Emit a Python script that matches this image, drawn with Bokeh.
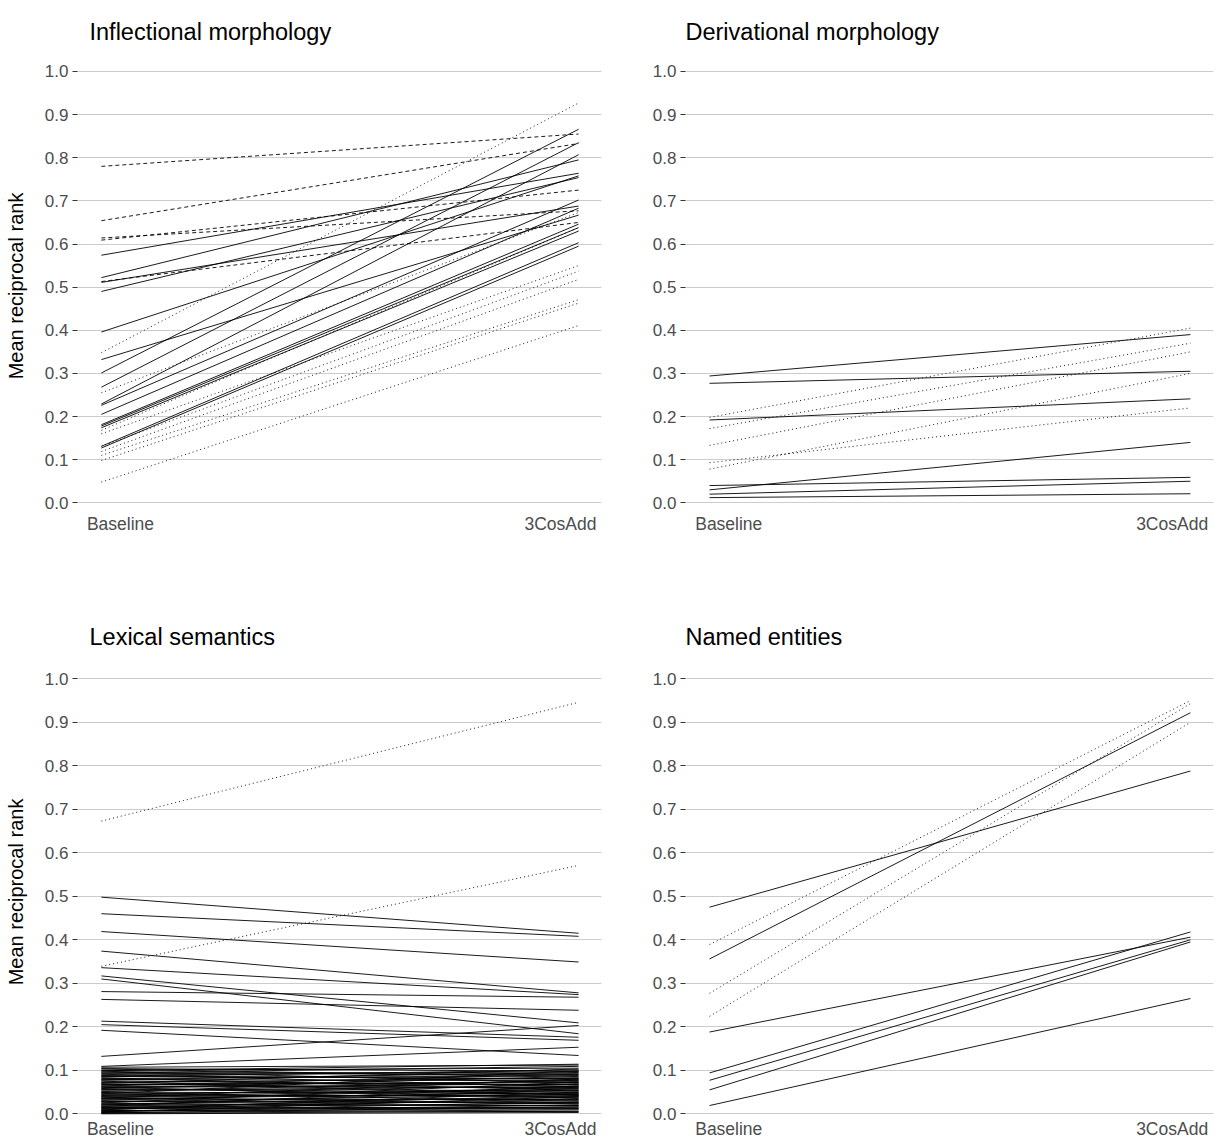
from bokeh.plotting import figure
from bokeh.layouts import gridplot
from bokeh.models import FixedTicker, Range1d, PrintfTickFormatter
from bokeh.embed import file_html
from bokeh.resources import INLINE

# ---------------- data ----------------
X_CATS = ["Baseline", "3CosAdd"]
X_POS = [1, 2]                      # positions of the two conditions
X_LABEL_POS = [1.04, 1.962]         # where the category labels sit
Y_TICKS = [0.0, 0.1, 0.2, 0.3, 0.4, 0.5, 0.6, 0.7, 0.8, 0.9, 1.0]

# Inflectional morphology
infl_solid_base = [0.574, 0.522, 0.490, 0.511, 0.396, 0.332, 0.301, 0.268, 0.229, 0.226, 0.205, 0.181, 0.178, 0.174, 0.131, 0.127]
infl_solid_add = [0.764, 0.795, 0.754, 0.688, 0.758, 0.667, 0.866, 0.835, 0.807, 0.702, 0.683, 0.646, 0.638, 0.630, 0.603, 0.595]
infl_dashed_base = [0.780, 0.654, 0.614, 0.609, 0.513]
infl_dashed_add = [0.855, 0.833, 0.677, 0.725, 0.650]
infl_dotted_base = [0.348, 0.255, 0.168, 0.160, 0.131, 0.119, 0.110, 0.098, 0.048]
infl_dotted_add = [0.927, 0.673, 0.638, 0.550, 0.537, 0.518, 0.471, 0.463, 0.411]

# Derivational morphology
deriv_solid_base = [0.294, 0.277, 0.192, 0.040, 0.030, 0.020, 0.012]
deriv_solid_add = [0.390, 0.305, 0.241, 0.059, 0.140, 0.050, 0.021]
deriv_dotted_base = [0.198, 0.172, 0.133, 0.093, 0.078]
deriv_dotted_add = [0.405, 0.370, 0.350, 0.220, 0.300]

# Lexical semantics
lex_solid_base = [0.498, 0.460, 0.419, 0.374, 0.336, 0.317, 0.310, 0.281, 0.263, 0.213, 0.205, 0.192, 0.132, 0.109,
                  0.107, 0.103, 0.100, 0.098, 0.096, 0.094, 0.091, 0.089, 0.088, 0.085, 0.083, 0.081, 0.078, 0.076,
                  0.075, 0.072, 0.070, 0.068, 0.066, 0.064, 0.061, 0.060, 0.058, 0.056, 0.054, 0.051, 0.049, 0.047,
                  0.046, 0.044, 0.042, 0.040, 0.038, 0.036, 0.034, 0.032, 0.031, 0.029, 0.027, 0.025, 0.024, 0.022,
                  0.020, 0.018, 0.017, 0.015, 0.013, 0.012, 0.010, 0.009, 0.007, 0.006, 0.005, 0.004, 0.003, 0.002,
                  0.001, 0.000, 0.104, 0.093, 0.086, 0.079, 0.071, 0.063, 0.057, 0.050, 0.043, 0.035, 0.028, 0.021,
                  0.014, 0.008, 0.099, 0.067, 0.039, 0.016]
lex_solid_add = [0.415, 0.408, 0.349, 0.278, 0.274, 0.209, 0.184, 0.268, 0.238, 0.176, 0.169, 0.134, 0.203, 0.153,
                 0.112, 0.084, 0.105, 0.071, 0.093, 0.109, 0.062, 0.097, 0.079, 0.101, 0.054, 0.088, 0.095, 0.066,
                 0.043, 0.082, 0.103, 0.058, 0.074, 0.091, 0.036, 0.069, 0.086, 0.047, 0.063, 0.077, 0.029, 0.052,
                 0.099, 0.041, 0.068, 0.057, 0.022, 0.080, 0.049, 0.033, 0.061, 0.026, 0.045, 0.073, 0.018, 0.038,
                 0.055, 0.030, 0.064, 0.024, 0.042, 0.015, 0.035, 0.050, 0.012, 0.027, 0.020, 0.039, 0.009, 0.016,
                 0.006, 0.003, 0.098, 0.090, 0.081, 0.076, 0.067, 0.060, 0.053, 0.046, 0.040, 0.032, 0.025, 0.019,
                 0.011, 0.005, 0.114, 0.072, 0.044, 0.013]
lex_dotted_base = [0.673, 0.339]
lex_dotted_add = [0.946, 0.571]

# Named entities
ne_solid_base = [0.475, 0.356, 0.188, 0.094, 0.077, 0.055, 0.019]
ne_solid_add = [0.788, 0.922, 0.406, 0.418, 0.400, 0.395, 0.265]
ne_dotted_base = [0.389, 0.277, 0.224]
ne_dotted_add = [0.950, 0.943, 0.900]

# ---------------- styling ----------------
FONT = "Liberation Sans"
SOLID, DASHED, DOTTED = "solid", "4 3", "1 3"


def panel(title, series, width, height, borders, y_range, ylabel, title_offset, title_standoff):
    left, right, top, bottom = borders
    p = figure(width=width, height=height, output_backend="svg", toolbar_location=None,
               x_range=Range1d(0.95, 2.048), y_range=Range1d(*y_range),
               min_border_left=left, min_border_right=right,
               min_border_top=top, min_border_bottom=bottom)
    p.outline_line_color = None
    p.background_fill_color = "white"
    p.border_fill_color = "white"

    for base, add, dash in series:
        xs = [X_POS for _ in base]
        ys = [[b, a] for b, a in zip(base, add)]
        p.multi_line(xs, ys, line_color="black", line_width=0.9, line_dash=dash)

    p.title.text = title
    p.title.text_font = FONT
    p.title.text_font_size = "23.5px"
    p.title.text_font_style = "normal"
    p.title.text_color = "black"
    p.title.offset = title_offset
    p.title.standoff = title_standoff

    p.xgrid.grid_line_color = None
    p.ygrid.grid_line_color = "#CCCCCC"
    p.ygrid.grid_line_width = 1
    p.ygrid.ticker = FixedTicker(ticks=Y_TICKS)

    xa = p.xaxis[0]
    xa.ticker = FixedTicker(ticks=X_LABEL_POS)
    xa.major_label_overrides = {pos: name for pos, name in zip(X_LABEL_POS, X_CATS)}
    xa.axis_line_color = None
    xa.major_tick_line_color = None
    xa.minor_tick_line_color = None
    xa.major_label_text_font = FONT
    xa.major_label_text_font_size = "17.5px"
    xa.major_label_text_color = "#4D4D4D"
    xa.major_label_standoff = -6

    ya = p.yaxis[0]
    ya.ticker = FixedTicker(ticks=Y_TICKS)
    ya.formatter = PrintfTickFormatter(format="%.1f")
    ya.axis_line_color = None
    ya.major_tick_line_color = "#333333"
    ya.major_tick_out = 5
    ya.major_tick_in = 0
    ya.minor_tick_line_color = None
    ya.major_label_text_font = FONT
    ya.major_label_text_font_size = "17px"
    ya.major_label_text_color = "#4D4D4D"
    ya.major_label_standoff = 4
    if ylabel:
        ya.axis_label = ylabel
        ya.axis_label_text_font = FONT
        ya.axis_label_text_font_size = "20px"
        ya.axis_label_text_font_style = "normal"
        ya.axis_label_text_color = "black"
        ya.axis_label_standoff = 15
    return p


TOP_Y = (-0.0248, 1.0301)
BOT_Y = (-0.0108, 1.0306)

tl = panel("Inflectional morphology",
           [(infl_solid_base, infl_solid_add, SOLID),
            (infl_dashed_base, infl_dashed_add, DASHED),
            (infl_dotted_base, infl_dotted_add, DOTTED)],
           609, 573, (77, 8, 58, 60), TOP_Y, "Mean reciprocal rank", 12, 27)
tr = panel("Derivational morphology",
           [(deriv_solid_base, deriv_solid_add, SOLID),
            (deriv_dotted_base, deriv_dotted_add, DOTTED)],
           609, 573, (76, 5, 58, 60), TOP_Y, None, 0, 27)
bl = panel("Lexical semantics",
           [(lex_solid_base, lex_solid_add, SOLID),
            (lex_dotted_base, lex_dotted_add, DOTTED)],
           609, 573, (77, 8, 92, 28), BOT_Y, "Mean reciprocal rank", 12, 31)
br = panel("Named entities",
           [(ne_solid_base, ne_solid_add, SOLID),
            (ne_dotted_base, ne_dotted_add, DOTTED)],
           609, 573, (76, 5, 92, 28), BOT_Y, None, 0, 31)

grid = gridplot([[tl, tr], [bl, br]], toolbar_location=None)

open("out.html", "w").write(file_html(grid, INLINE))
